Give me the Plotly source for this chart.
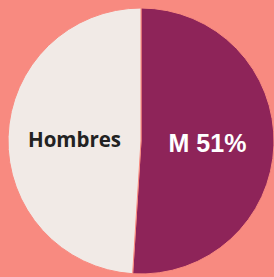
import plotly.graph_objects as go

labels = ["M", "Hombres"]
values = [51, 49]
texts = ["M 51%", "Hombres"]
colors = ["#8E2459", "#F1EAE6"]
text_colors = ["#FFFFFF", "#222222"]
text_fonts = ["Liberation Sans", "Open Sans"]
text_sizes = [25, 20.5]

styled = [f'<span style="font-family:\'{f}\'">{t}</span>' for t, f in zip(texts, text_fonts)]

fig = go.Figure(go.Pie(
    labels=labels,
    values=values,
    text=styled,
    textinfo="text",
    textposition="inside",
    insidetextorientation="horizontal",
    sort=False,
    direction="clockwise",
    rotation=0,
    marker=dict(colors=colors, line=dict(color="#F88A80", width=1)),
    insidetextfont=dict(color=text_colors, size=text_sizes, family="Open Sans", weight="bold"),
    domain=dict(x=[8/274, 1.0], y=[2/277, 270/277]),
    hoverinfo="label+percent",
))

fig.update_layout(
    width=274, height=277,
    margin=dict(l=0, r=0, t=0, b=0),
    paper_bgcolor="#F88A80",
    plot_bgcolor="#F88A80",
    showlegend=False,
)

fig.write_html("out.html",
               config={"displayModeBar": False},
               post_script="document.body.style.margin='0';document.body.style.background='#F88A80';")
